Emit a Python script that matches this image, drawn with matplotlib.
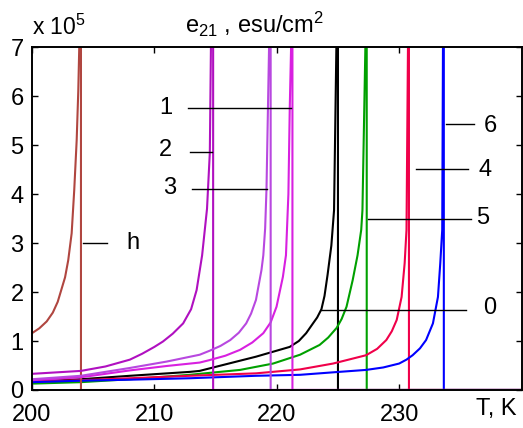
"""Piezo coefficient e21 vs temperature for several compositions."""

import matplotlib

matplotlib.use("Agg")
import matplotlib.pyplot as plt

plt.rcParams["font.family"] = ["Liberation Sans", "DejaVu Sans"]
plt.rcParams["mathtext.fontset"] = "custom"
plt.rcParams["mathtext.rm"] = "Liberation Sans"
plt.rcParams["mathtext.it"] = "Liberation Sans"

T_END = 240.0
E_TOP = 9.0

# curve h (brown)
t_h = [200, 200.6, 201.2, 201.7, 202.1, 202.4, 202.7, 202.96, 203.24, 203.45, 203.65, 203.78, 203.86]
e_h = [1.16, 1.26, 1.4, 1.58, 1.8, 2.05, 2.3, 2.65, 3.2, 4.08, 5.1, 6.1, 7.0]
tc_h = 204.0

# curve 2 (dark purple)
t_2 = [200, 204, 206, 208, 209, 210, 210.7, 211.5, 212.35, 213.0, 213.45, 213.9, 214.3, 214.53, 214.62]
e_2 = [0.33, 0.39, 0.48, 0.62, 0.74, 0.88, 0.99, 1.15, 1.36, 1.65, 2.04, 2.75, 3.7, 4.85, 7.0]
tc_2 = 214.8

# curve 3 (light violet)
t_3 = [200, 204, 208, 211, 213.7, 214.5, 215.4, 216.2, 216.9, 217.5, 217.9, 218.3, 218.75,
       218.9, 219.05, 219.16, 219.37]
e_3 = [0.22, 0.29, 0.45, 0.58, 0.72, 0.80, 0.90, 1.02, 1.17, 1.36, 1.56, 1.84, 2.45,
       2.75, 3.3, 4.1, 7.0]
tc_3 = 219.5

# curve 1 (magenta)
t_1 = [200, 204, 208, 211, 213.7, 214.5, 215.8, 217.0, 218.0, 218.9, 219.5, 219.98, 220.5,
       220.75, 220.95, 221.06, 221.17]
e_1 = [0.20, 0.26, 0.40, 0.49, 0.56, 0.61, 0.70, 0.82, 0.97, 1.16, 1.38, 1.70, 2.31,
       2.75, 4.0, 5.75, 7.0]
tc_1 = 221.28

# curve 0 (black)
t_0 = [200, 204, 208, 212.9, 213.7, 215.6, 218.3, 221.06, 221.8, 222.4, 222.96, 223.3, 223.65,
       223.9, 224.15, 224.46, 224.68, 224.87]
e_0 = [0.17, 0.22, 0.29, 0.37, 0.39, 0.51, 0.68, 0.88, 1.0, 1.16, 1.36, 1.48, 1.65,
       1.92, 2.35, 2.95, 3.67, 7.0]
tc_0 = 225.0

# curve 5 (green)
t_5 = [200, 204, 208, 212.9, 213.7, 217, 219.7, 221.9, 223.5, 224.2, 224.9, 225.3, 225.7, 226.2,
       226.6, 226.9, 227.0, 227.24]
e_5 = [0.13, 0.16, 0.22, 0.31, 0.33, 0.41, 0.54, 0.72, 0.92, 1.07, 1.27, 1.45, 1.70, 2.24,
       2.75, 3.27, 3.67, 7.0]
tc_5 = 227.35

# curve 4 (red)
t_4 = [200, 204, 208, 212.9, 218.3, 221.9, 224.6, 227.3, 228.2, 228.95, 229.4, 229.8, 230.2,
       230.45, 230.6, 230.72]
e_4 = [0.17, 0.20, 0.24, 0.29, 0.34, 0.42, 0.54, 0.71, 0.84, 1.02, 1.2, 1.43, 1.90,
       2.59, 3.27, 7.0]
tc_4 = 230.8

# curve 6 (blue)
t_6 = [200, 204, 208, 212.9, 218.3, 221.9, 225.1, 227.3, 228.7, 230.0, 230.6, 231.1, 231.7,
       232.2, 232.76, 233.17, 233.36, 233.52, 233.58]
e_6 = [0.16, 0.19, 0.21, 0.24, 0.29, 0.31, 0.37, 0.41, 0.46, 0.54, 0.62, 0.71, 0.85,
       1.02, 1.36, 1.90, 2.59, 3.27, 7.0]
tc_6 = 233.65

# label leader lines: (text, text T, text e, line T0, line T1, line e)
labels = [
    ("1", 210.94, 5.76, 212.73, 221.2, 5.755),
    ("2", 210.94, 4.90, 212.9, 214.7, 4.86),
    ("3", 211.27, 4.12, 213.06, 219.18, 4.10),
    ("h", 208.24, 3.00, 204.19, 206.1, 3.00),
    ("6", 237.47, 5.40, 233.8, 236.1, 5.44),
    ("4", 236.98, 4.49, 231.35, 235.6, 4.52),
    ("5", 236.8, 3.51, 227.45, 235.9, 3.50),
    ("0", 237.39, 1.67, 223.65, 235.5, 1.63),
]

series = [
    (t_0, e_0, tc_0, "#000000"),
    (t_5, e_5, tc_5, "#00a000"),
    (t_4, e_4, tc_4, "#f0004a"),
    (t_6, e_6, tc_6, "#0000ff"),
    (t_h, e_h, tc_h, "#b04640"),
    (t_2, e_2, tc_2, "#b010c0"),
    (t_1, e_1, tc_1, "#d820e0"),
    (t_3, e_3, tc_3, "#b848e0"),
]

fig = plt.figure(figsize=(5.23, 4.28), dpi=100)
ax = fig.add_axes([0.0612, 0.0888, 0.936, 0.801])

for t, e, tc, color in series:
    # curve up to divergence, drop at Tc, then zero above Tc
    x = list(t) + [tc, tc, T_END]
    y = list(e) + [E_TOP, 0.0, 0.0]
    ax.plot(x, y, color=color, lw=1.5, solid_joinstyle="round")

for text, tx, ty, x0, x1, ly in labels:
    ax.plot([x0, x1], [ly, ly], color="black", lw=1.0)
    ax.text(tx, ty, text, fontsize=17, ha="center", va="center")

ax.set_xlim(200, 240)
ax.set_ylim(0, 7)
ax.set_xticks([200, 210, 220, 230])
ax.set_yticks(range(8))
ax.tick_params(direction="in", length=4, width=1, top=True, right=True, labelsize=17)
ax.tick_params(axis="x", pad=10)
ax.tick_params(axis="y", pad=6)
for s in ax.spines.values():
    s.set_linewidth(1.4)

ax.text(237.9, -0.39, "T, K", fontsize=17, ha="center", va="center")
fig.text(0.0612, 0.918, r"x 10$^5$", fontsize=16.5, ha="left", va="baseline")
fig.text(0.354, 0.923, r"e$_{21}$ , esu/cm$^2$", fontsize=17, ha="left", va="baseline")

fig.savefig("out.png", dpi=100)
